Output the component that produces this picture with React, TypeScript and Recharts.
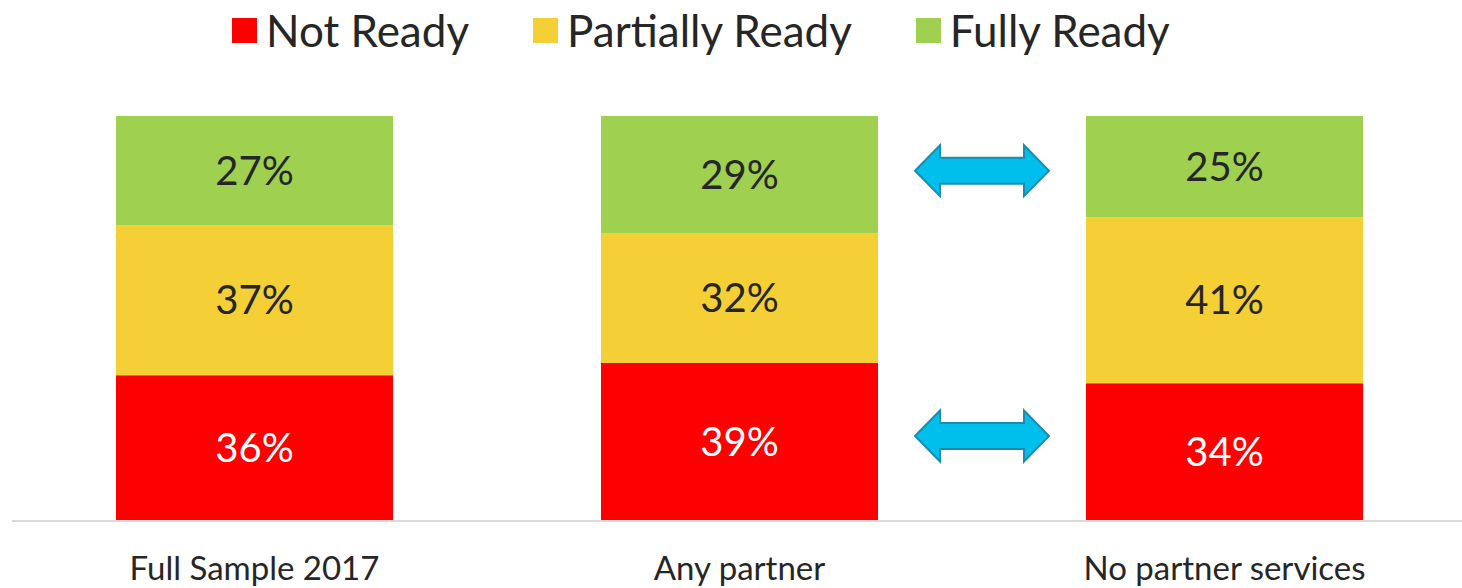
import React from "react";
import {
  BarChart,
  Bar,
  XAxis,
  YAxis,
  Legend,
  LabelList,
  ReferenceDot,
} from "recharts";

const categories = ["Full Sample 2017", "Any partner", "No partner services"];
const seriesNames = ["Not Ready", "Partially Ready", "Fully Ready"];
const notReady = [36, 39, 34];
const partiallyReady = [37, 32, 41];
const fullyReady = [27, 29, 25];

// comparison arrows, placed between the 2nd and 3rd bar (position axis 0..3)
const arrowX = [2, 2];
const arrowY = [86.5, 21];

const FONT = "Lato, 'Open Sans', sans-serif";
const TEXT = "#262626";

const chartData = categories.map((name, i) => ({
  name,
  pos: i + 0.5,
  notReady: notReady[i],
  partiallyReady: partiallyReady[i],
  fullyReady: fullyReady[i],
}));

const arrows = arrowX.map((x, i) => ({ x, y: arrowY[i] }));

const DoubleArrow = (props: any) => {
  const { cx, cy } = props;
  if (cx == null || cy == null) return null;
  const half = 67;
  const head = 25;
  const hh = 25.5;
  const sh = 13;
  const pts = [
    [cx - half, cy],
    [cx - half + head, cy - hh],
    [cx - half + head, cy - sh],
    [cx + half - head, cy - sh],
    [cx + half - head, cy - hh],
    [cx + half, cy],
    [cx + half - head, cy + hh],
    [cx + half - head, cy + sh],
    [cx - half + head, cy + sh],
    [cx - half + head, cy + hh],
  ]
    .map((p) => p.join(","))
    .join(" ");
  return <polygon points={pts} fill="#00BFEC" stroke="#1A8CB0" strokeWidth={2} strokeLinejoin="miter" />;
};

const LegendContent = (props: any) => {
  const items = [...(props.payload || [])].sort(
    (a: any, b: any) => seriesNames.indexOf(a.value) - seriesNames.indexOf(b.value)
  );
  return (
    <div style={{ display: "flex", alignItems: "center", fontFamily: FONT, fontSize: 44, color: TEXT }}>
      {items.map((item: any, i: number) => (
        <div key={i} style={{ display: "flex", alignItems: "center", marginRight: 64 }}>
          <span style={{ width: 25, height: 25, background: item.color, display: "inline-block", marginRight: 9 }} />
          <span style={{ lineHeight: "50px" }}>{item.value}</span>
        </div>
      ))}
    </div>
  );
};

export default function App() {
  return (
    <div style={{ width: 1462, height: 588, background: "#fff" }}>
      <style>{"body{margin:0}"}</style>
      <BarChart
        width={1462}
        height={588}
        data={chartData}
        margin={{ top: 66, right: -5, bottom: 7, left: 12 }}
        barCategoryGap={104}
      >
        <XAxis
          dataKey="name"
          axisLine={{ stroke: "#D9D9D9", strokeWidth: 2 }}
          tickLine={false}
          tick={{ fontSize: 33, fill: TEXT, fontFamily: FONT }}
          tickMargin={30}
          height={60}
          interval={0}
        />
        <XAxis xAxisId="pos" dataKey="pos" type="number" domain={[0, 3]} allowDataOverflow hide />
        <YAxis domain={[0, 100]} hide />
        <Legend
          verticalAlign="top"
          align="left"
          content={<LegendContent />}
          wrapperStyle={{ top: 5, left: 232, height: 50, width: "auto" }}
        />
        <Bar dataKey="notReady" name={seriesNames[0]} stackId="a" fill="#FF0000" isAnimationActive={false}>
          <LabelList
            dataKey="notReady"
            position="center"
            formatter={(v: any) => `${v}%`}
            style={{ fill: "#FFFFFF", fontSize: 40, fontFamily: FONT }}
          />
        </Bar>
        <Bar dataKey="partiallyReady" name={seriesNames[1]} stackId="a" fill="#F4CF35" isAnimationActive={false}>
          <LabelList
            dataKey="partiallyReady"
            position="center"
            formatter={(v: any) => `${v}%`}
            style={{ fill: TEXT, fontSize: 40, fontFamily: FONT }}
          />
        </Bar>
        <Bar dataKey="fullyReady" name={seriesNames[2]} stackId="a" fill="#9FD050" isAnimationActive={false}>
          <LabelList
            dataKey="fullyReady"
            position="center"
            formatter={(v: any) => `${v}%`}
            style={{ fill: TEXT, fontSize: 40, fontFamily: FONT }}
          />
        </Bar>
        {arrows.map((a, i) => (
          <ReferenceDot
            key={i}
            xAxisId="pos"
            x={a.x}
            y={a.y}
            r={0}
            shape={<DoubleArrow />}
            ifOverflow="visible"
          />
        ))}
      </BarChart>
    </div>
  );
}
